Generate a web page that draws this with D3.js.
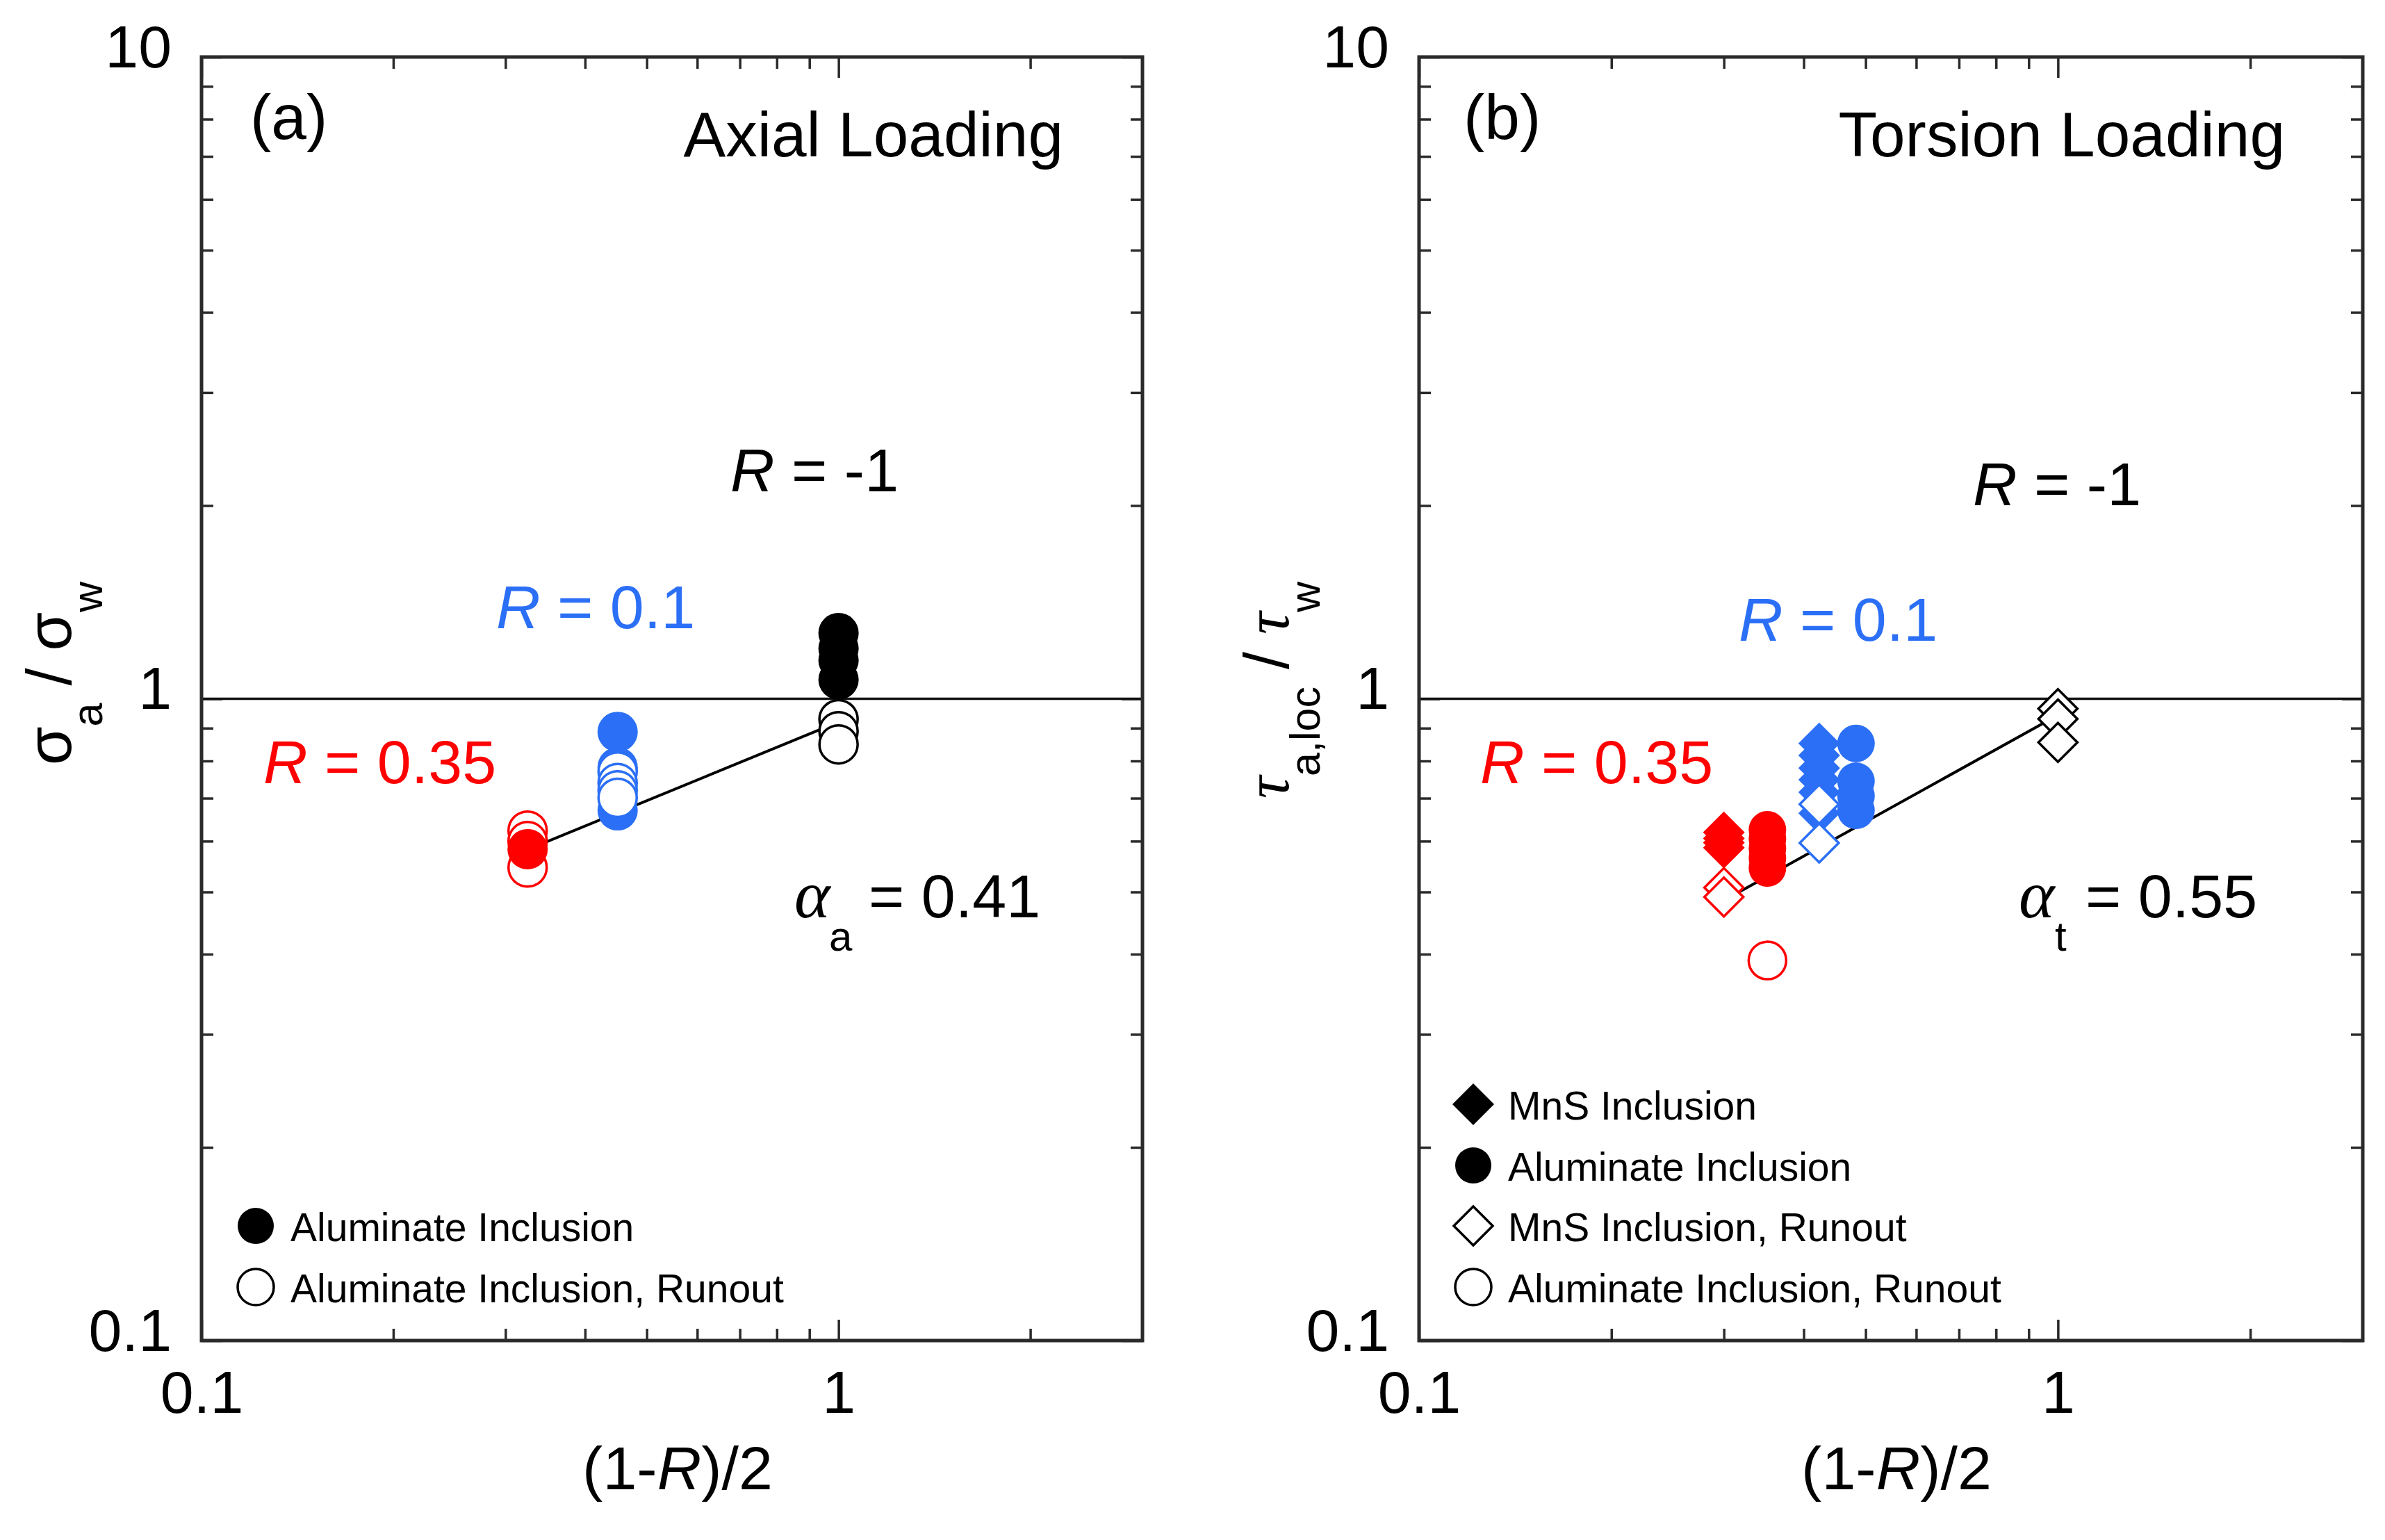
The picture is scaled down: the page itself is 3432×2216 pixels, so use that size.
<!DOCTYPE html>
<html><head><meta charset="utf-8">
<script src="https://cdn.jsdelivr.net/npm/d3@7"></script>
<style>
html,body{margin:0;padding:0;background:#fff;}
svg{display:block;}
</style></head>
<body>
<svg id="chart" width="3432" height="2216"></svg>
<script>
// ---------------- DATA ----------------
const xDomain = [0.1, 3];
const yDomain = [0.1, 10];
const xMajorTicks = [0.1, 1];
const xTickLabels = ["0.1", "1"];
const yMajorTicks = [0.1, 1, 10];
const yTickLabels = ["0.1", "1", "10"];
const xMinorTicks = [0.2, 0.3, 0.4, 0.5, 0.6, 0.7, 0.8, 0.9, 2];
const yMinorTicks = [0.2, 0.3, 0.4, 0.5, 0.6, 0.7, 0.8, 0.9, 2, 3, 4, 5, 6, 7, 8, 9];

// Panel (a) axial loading: x = (1-R)/2
const axialRatioR035 = 0.325;
const axialRatioR01 = 0.45;
const axialRatioRm1 = 1.0;
const axialR035Failed = [0.583];
const axialR035Runout = [0.623, 0.600, 0.546];
const axialR01Failed = [0.888, 0.782, 0.670];
const axialR01Runout = [0.770, 0.739, 0.720, 0.701];
const axialRm1Failed = [1.266, 1.198, 1.148, 1.071];
const axialRm1Runout = [0.929, 0.890, 0.849];
const axialFitX = [0.325, 1.0];
const axialFitY = [0.582, 0.92];

// Panel (b) torsion loading
const torsionMnSR035X = 0.30;
const torsionAlR035X = 0.351;
const torsionMnSR01X = 0.423;
const torsionAlR01X = 0.483;
const torsionMnSRm1X = 1.0;
const torsionMnSR035Failed = [0.619, 0.606, 0.597, 0.586];
const torsionMnSR035Runout = [0.508, 0.491];
const torsionAlR035Failed = [0.625, 0.605, 0.585, 0.565, 0.545];
const torsionAlR035Runout = [0.391];
const torsionMnSR01Failed = [0.852, 0.816, 0.780, 0.748, 0.715, 0.663];
const torsionMnSR01Runout = [0.685, 0.596];
const torsionAlR01Failed = [0.852, 0.744, 0.706, 0.670];
const torsionMnSRm1Runout = [0.965, 0.930, 0.855];
const torsionFitX = [0.30, 1.0];
const torsionFitY = [0.485, 0.943];

const legendA = ["Aluminate Inclusion", "Aluminate Inclusion, Runout"];
const legendB = ["MnS Inclusion", "Aluminate Inclusion", "MnS Inclusion, Runout", "Aluminate Inclusion, Runout"];

// ---------------- STYLE ----------------
const RED = "#ff0000", BLUE = "#2b6ff6", BLACK = "#000000";
const SANS = "Liberation Sans, Arial, sans-serif";
const SERIF = "Liberation Serif, Times New Roman, serif";
const svg = d3.select("#chart");

function diamondPath(h) { return `M0,${-h}L${h},0L0,${h}L${-h},0Z`; }

function drawPanel(p) {
  const x = d3.scaleLog().domain(xDomain).range([p.left, p.right]);
  const y = d3.scaleLog().domain(yDomain).range([p.bottom, p.top]);
  const g = svg.append("g");
  const axisColor = "#2a2a2a";

  const minorLen = 17, majorLen = 30;
  const addAxis = (axis, tr) => {
    const a = g.append("g").attr("transform", tr).call(axis);
    a.select(".domain").remove();
    a.selectAll("line").attr("stroke", axisColor).attr("stroke-width", 3.5);
    return a;
  };
  addAxis(d3.axisBottom(x).tickValues(xMinorTicks).tickSize(-minorLen).tickFormat(""), `translate(0,${p.bottom})`);
  addAxis(d3.axisTop(x).tickValues(xMinorTicks).tickSize(-minorLen).tickFormat(""), `translate(0,${p.top})`);
  addAxis(d3.axisLeft(y).tickValues(yMinorTicks).tickSize(-minorLen).tickFormat(""), `translate(${p.left},0)`);
  addAxis(d3.axisRight(y).tickValues(yMinorTicks).tickSize(-minorLen).tickFormat(""), `translate(${p.right},0)`);
  addAxis(d3.axisTop(x).tickValues(xMajorTicks).tickSize(-majorLen).tickFormat(""), `translate(0,${p.top})`);
  addAxis(d3.axisRight(y).tickValues(yMajorTicks).tickSize(-majorLen).tickFormat(""), `translate(${p.right},0)`);

  const xa = addAxis(d3.axisBottom(x).tickValues(xMajorTicks).tickSize(-majorLen).tickPadding(43)
      .tickFormat((d, i) => xTickLabels[i]), `translate(0,${p.bottom})`);
  xa.attr("font-size", 86).attr("font-family", SANS);
  xa.selectAll("text").attr("fill", "#000");
  const ya = addAxis(d3.axisLeft(y).tickValues(yMajorTicks).tickSize(-majorLen).tickPadding(43)
      .tickFormat((d, i) => yTickLabels[i]), `translate(${p.left},0)`);
  ya.attr("font-size", 86).attr("font-family", SANS);
  ya.selectAll("text").attr("dy", 14).attr("fill", "#000");

  // reference line at 1
  g.append("line").attr("x1", p.left).attr("x2", p.right)
    .attr("y1", y(1)).attr("y2", y(1)).attr("stroke", "#111").attr("stroke-width", 3.5);

  // frame
  g.append("rect").attr("x", p.left).attr("y", p.top)
    .attr("width", p.right - p.left).attr("height", p.bottom - p.top)
    .attr("fill", "none").attr("stroke", axisColor).attr("stroke-width", 5);

  // fit line
  const fit = d3.line().x(d => x(d[0])).y(d => y(d[1]));
  g.append("path").datum(d3.zip(p.fitX, p.fitY)).attr("d", fit)
    .attr("fill", "none").attr("stroke", "#000").attr("stroke-width", 4);

  // markers
  const drawGroup = (xv, vals, shape, color, filled, r) => {
    const pts = vals.map(v => [xv, v]);
    const sel = g.append("g").selectAll("path").data(pts).join("path")
      .attr("transform", d => `translate(${x(d[0])},${y(d[1])})`)
      .attr("fill", filled ? color : "#fff")
      .attr("stroke", color)
      .attr("stroke-width", filled ? 0 : 3.5);
    if (shape === "circle") sel.attr("d", d3.symbol(d3.symbolCircle, Math.PI * r * r)());
    else sel.attr("d", diamondPath(r));
  };
  p.groups.forEach(gr => drawGroup(gr.x, gr.vals, gr.shape, gr.color, gr.filled, gr.r));

  return {g, x, y};
}

// ---------- Panel (a) ----------
const rA = 29;
drawPanel({
  left: 290, right: 1644, top: 82, bottom: 1929,
  fitX: axialFitX, fitY: axialFitY,
  groups: [
    {x: axialRatioR035, vals: axialR035Runout, shape: "circle", color: RED, filled: false, r: rA - 1.5},
    {x: axialRatioR035, vals: axialR035Failed, shape: "circle", color: RED, filled: true, r: rA},
    {x: axialRatioR01, vals: axialR01Failed, shape: "circle", color: BLUE, filled: true, r: rA},
    {x: axialRatioRm1, vals: axialRm1Failed, shape: "circle", color: BLACK, filled: true, r: rA},
    {x: axialRatioR01, vals: axialR01Runout, shape: "circle", color: BLUE, filled: false, r: rA - 1.5},
    {x: axialRatioRm1, vals: axialRm1Runout, shape: "circle", color: BLACK, filled: false, r: rA - 1.5}
  ]
});

// ---------- Panel (b) ----------
const rB = 27, dB = 30;
drawPanel({
  left: 2042, right: 3400, top: 82, bottom: 1929,
  fitX: torsionFitX, fitY: torsionFitY,
  groups: [
    {x: torsionMnSR035X, vals: torsionMnSR035Failed, shape: "diamond", color: RED, filled: true, r: dB},
    {x: torsionAlR035X, vals: torsionAlR035Failed, shape: "circle", color: RED, filled: true, r: rB},
    {x: torsionMnSR01X, vals: torsionMnSR01Failed, shape: "diamond", color: BLUE, filled: true, r: dB},
    {x: torsionAlR01X, vals: torsionAlR01Failed, shape: "circle", color: BLUE, filled: true, r: rB},
    {x: torsionMnSR035X, vals: torsionMnSR035Runout, shape: "diamond", color: RED, filled: false, r: dB - 2},
    {x: torsionAlR035X, vals: torsionAlR035Runout, shape: "circle", color: RED, filled: false, r: rB},
    {x: torsionMnSR01X, vals: torsionMnSR01Runout, shape: "diamond", color: BLUE, filled: false, r: dB - 2},
    {x: torsionMnSRm1X, vals: torsionMnSRm1Runout, shape: "diamond", color: BLACK, filled: false, r: dB - 2}
  ]
});

// ---------- Text ----------
function txt(x, y, s, size, opts = {}) {
  const t = svg.append("text").attr("x", x).attr("y", y).attr("font-size", size)
    .attr("font-family", opts.family || SANS).attr("fill", opts.color || "#000")
    .attr("text-anchor", opts.anchor || "start");
  if (opts.italic) t.attr("font-style", "italic");
  t.text(s);
  return t;
}
function rLabel(x, y, val, color) {
  const t = svg.append("text").attr("x", x).attr("y", y).attr("font-size", 88)
    .attr("font-family", SANS).attr("fill", color);
  t.append("tspan").attr("font-style", "italic").text("R");
  t.append("tspan").text(" = " + val);
}

// panel (a)
txt(360, 200, "(a)", 91);
txt(1530, 225, "Axial Loading", 91, {anchor: "end"});
rLabel(1051, 707, "-1", "#000");
rLabel(714, 904, "0.1", BLUE);
rLabel(379, 1127, "0.35", RED);
txt(1143, 1320, "α", 98, {family: SERIF, italic: true});
txt(1193, 1368, "a", 60);
txt(1250, 1320, "= 0.41", 88);

// panel (b)
txt(2106, 200, "(b)", 91);
txt(3288, 225, "Torsion Loading", 91, {anchor: "end"});
rLabel(2839, 727, "-1", "#000");
rLabel(2502, 922, "0.1", BLUE);
rLabel(2130, 1127, "0.35", RED);
txt(2905, 1320, "α", 98, {family: SERIF, italic: true});
txt(2957, 1368, "t", 60);
txt(3001, 1320, "= 0.55", 88);

// x axis titles
function xTitle(cx) {
  const t = svg.append("text").attr("x", cx).attr("y", 2143).attr("font-size", 88)
    .attr("font-family", SANS).attr("text-anchor", "middle").attr("fill", "#000");
  t.append("tspan").text("(1-");
  t.append("tspan").attr("font-style", "italic").text("R");
  t.append("tspan").text(")/2");
}
xTitle((290 + 1644) / 2 + 8);
xTitle((2042 + 3400) / 2 + 8);

// y axis titles
{
  const t = svg.append("text").attr("transform", "translate(102,969) rotate(-90)")
    .attr("font-size", 90).attr("font-family", SANS).attr("text-anchor", "middle").attr("fill", "#000");
  t.append("tspan").text("σ");
  t.append("tspan").attr("font-size", 61).attr("dy", 45).text("a");
  t.append("tspan").attr("dy", -45).text(" / σ");
  t.append("tspan").attr("font-size", 61).attr("dy", 45).text("w");
}
{
  const t = svg.append("text").attr("transform", "translate(1854,993) rotate(-90)")
    .attr("font-size", 90).attr("font-family", SANS).attr("text-anchor", "middle").attr("fill", "#000");
  t.append("tspan").attr("font-family", SERIF).attr("font-style", "italic").text("τ");
  t.append("tspan").attr("font-size", 61).attr("dy", 45).text("a,loc");
  t.append("tspan").attr("dy", -45).text(" / ");
  t.append("tspan").attr("font-family", SERIF).attr("font-style", "italic").text("τ");
  t.append("tspan").attr("font-size", 61).attr("dy", 45).text("w");
}

// legends
function legend(left, rowsY, items, shapes) {
  items.forEach((label, i) => {
    const cy = rowsY[i];
    const s = shapes[i];
    const m = svg.append("path").attr("transform", `translate(${left + 78},${cy})`)
      .attr("fill", s.filled ? "#000" : "#fff").attr("stroke", "#000")
      .attr("stroke-width", s.filled ? 0 : 3.5);
    if (s.shape === "circle") m.attr("d", d3.symbol(d3.symbolCircle, Math.PI * 26 * 26)());
    else m.attr("d", diamondPath(s.filled ? 30 : 28));
    txt(left + 128, cy + 22, label, 57);
  });
}
legend(290, [1764, 1852], legendA,
  [{shape: "circle", filled: true}, {shape: "circle", filled: false}]);
legend(2042, [1589, 1677, 1764, 1852], legendB,
  [{shape: "diamond", filled: true}, {shape: "circle", filled: true},
   {shape: "diamond", filled: false}, {shape: "circle", filled: false}]);
</script>
</body></html>
